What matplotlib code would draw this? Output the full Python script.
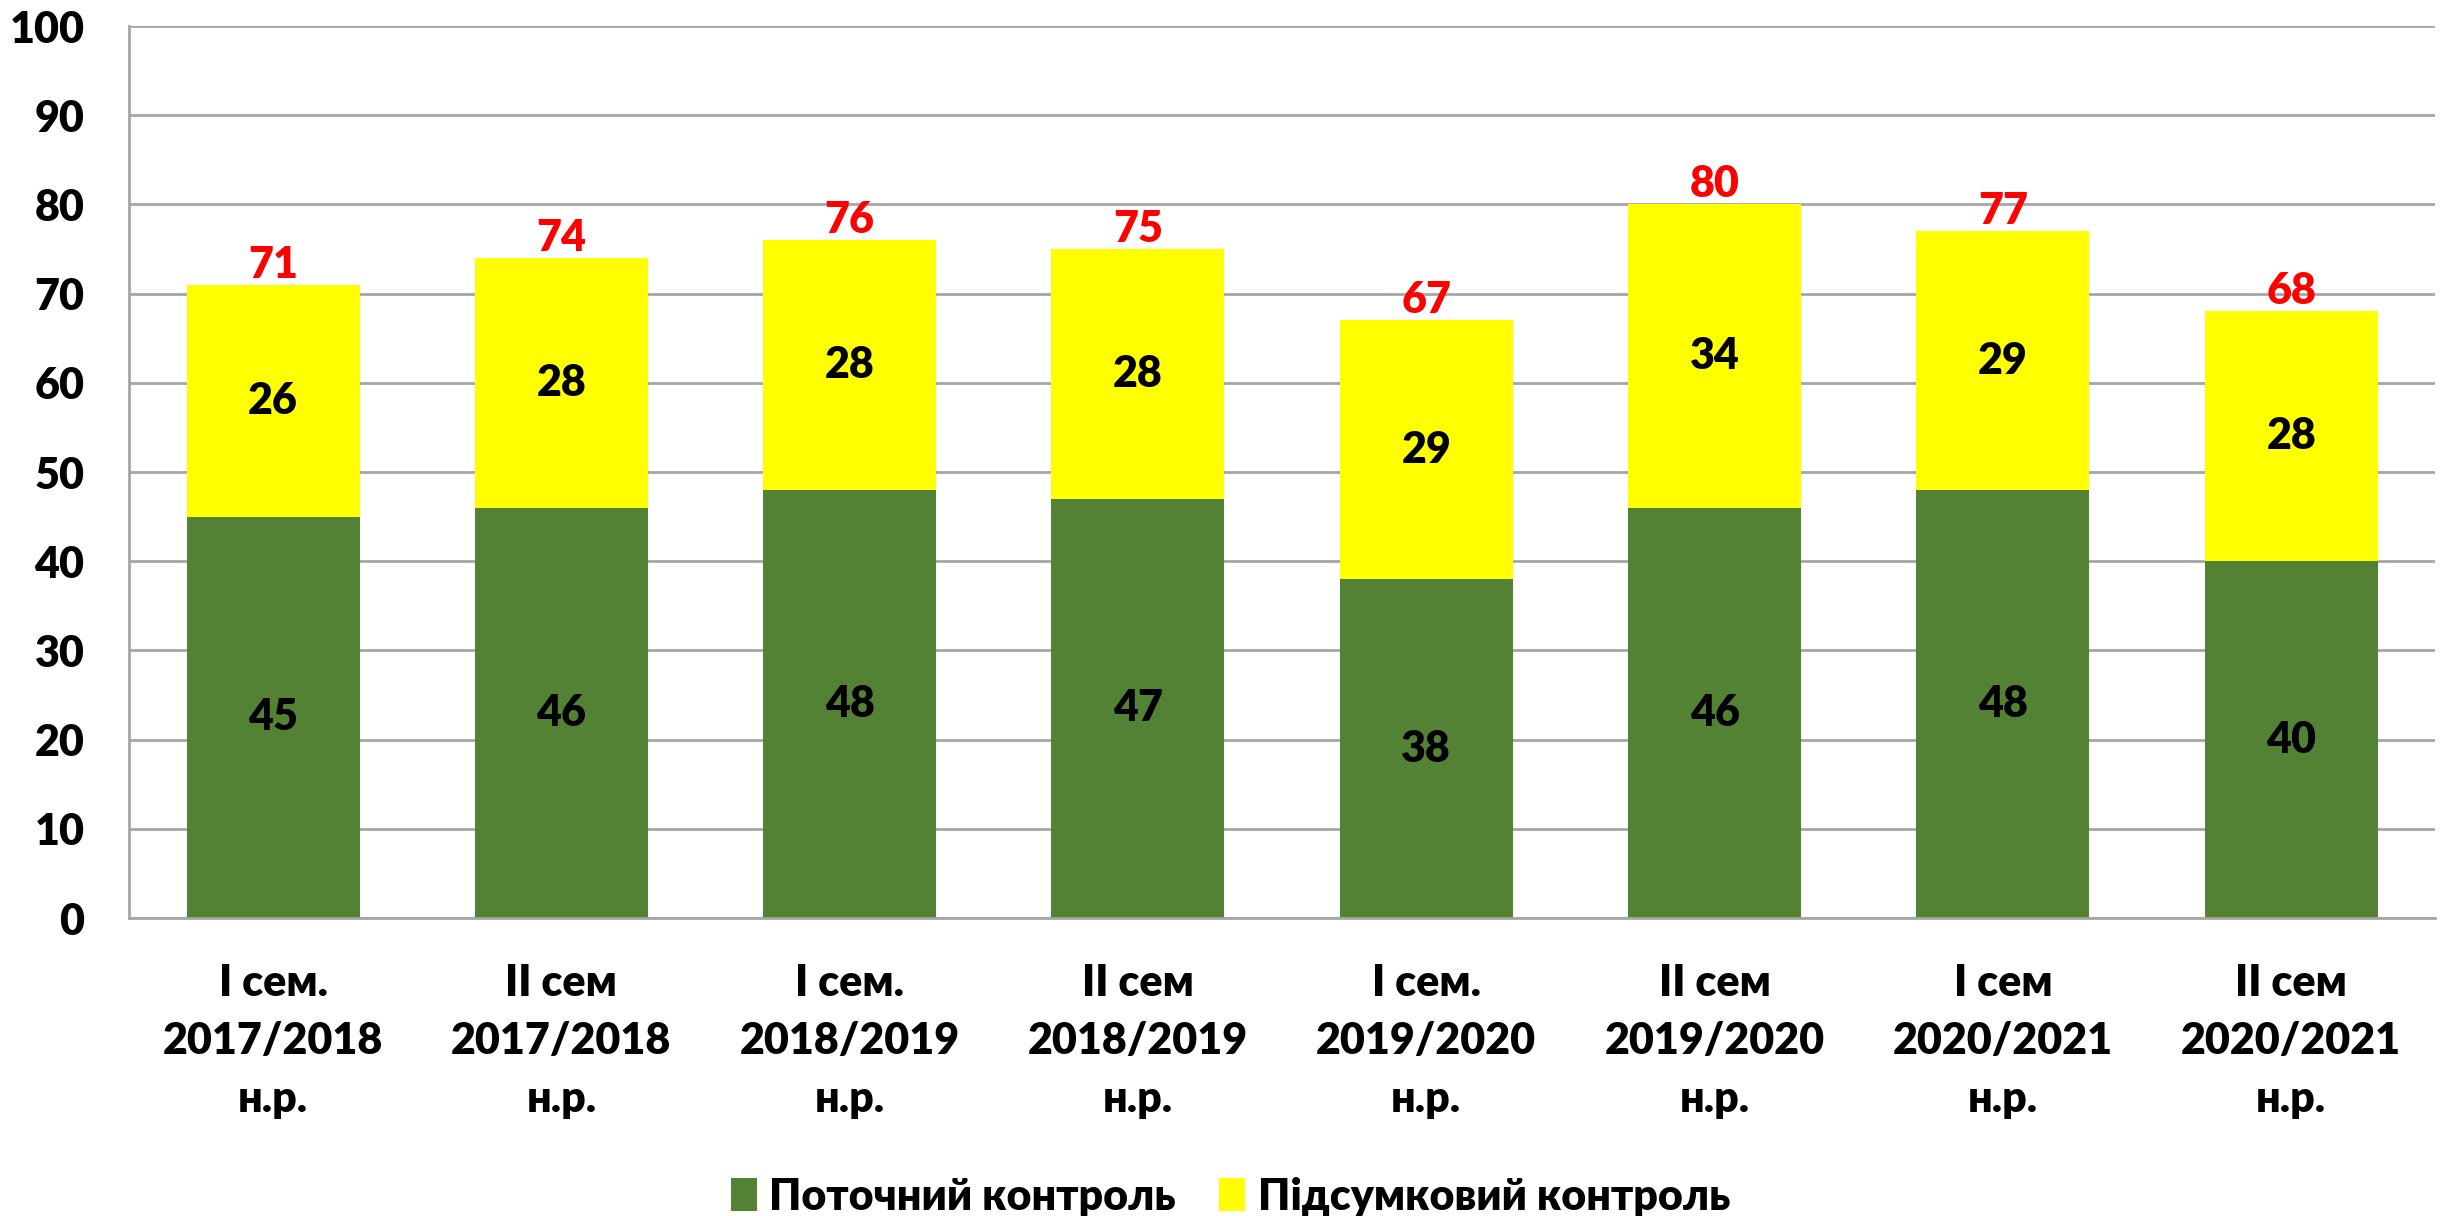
import matplotlib
matplotlib.use('Agg')
import matplotlib.pyplot as plt
import numpy as np

# Data
categories = ['I сем.\n2017/2018\nн.р.', 'II сем\n2017/2018\nн.р.',
              'I сем.\n2018/2019\nн.р.', 'II сем\n2018/2019\nн.р.',
              'I сем.\n2019/2020\nн.р.', 'II сем\n2019/2020\nн.р.',
              'I сем\n2020/2021\nн.р.', 'II сем\n2020/2021\nн.р.']
current_control = [45, 46, 48, 47, 38, 46, 48, 40]
final_control = [26, 28, 28, 28, 29, 34, 29, 28]
totals = [71, 74, 76, 75, 67, 80, 77, 68]
series_names = ['Поточний контроль', 'Підсумковий контроль']
y_ticks = [0, 10, 20, 30, 40, 50, 60, 70, 80, 90, 100]

plt.rcParams['font.family'] = ['Lato', 'Open Sans', 'DejaVu Sans']
wt = 'heavy'
plt.rcParams['font.weight'] = wt

fig = plt.figure(figsize=(24.51, 12.16), dpi=100)
ax = fig.add_axes([0.0526, 0.245, 0.941, 0.7336])

x = np.arange(len(categories))
bar_width = 0.6
green = '#548235'
yellow = '#FFFF00'

bars_cur = ax.bar(x, current_control, bar_width, color=green,
                  label=series_names[0], zorder=2)
bars_fin = ax.bar(x, final_control, bar_width, bottom=current_control,
                  color=yellow, label=series_names[1], zorder=2)

fs = 31
ax.bar_label(bars_cur, labels=[str(v) for v in current_control],
             label_type='center', fontsize=fs, fontweight=wt, color='black')
ax.bar_label(bars_fin, labels=[str(v) for v in final_control],
             label_type='center', fontsize=fs, fontweight=wt, color='black')
for xi, t in zip(x, totals):
    ax.annotate(str(t), xy=(xi, t), xytext=(0, 0), textcoords='offset points',
                ha='center', va='bottom', fontsize=fs, fontweight=wt,
                color='#FF0000')

ax.set_xlim(-0.5, len(categories) - 0.5)
ax.set_ylim(0, 100)
ax.set_yticks(y_ticks)
ax.set_yticklabels([str(v) for v in y_ticks], fontsize=fs, fontweight=wt)
ax.set_xticks(x)
ax.set_xticklabels(categories, fontsize=fs, fontweight=wt, linespacing=1.55)
ax.tick_params(axis='y', length=0, pad=32)
ax.tick_params(axis='x', length=0, pad=32)

ax.grid(axis='y', color='#A6A6A6', linewidth=2, zorder=0)
for side in ['top', 'right']:
    ax.spines[side].set_visible(False)
ax.spines['left'].set_color('#A6A6A6')
ax.spines['left'].set_linewidth(2)
ax.spines['bottom'].set_color('#A6A6A6')
ax.spines['bottom'].set_linewidth(2)

fig.legend(loc='center', bbox_to_anchor=(0.502, 0.016), ncol=2, frameon=False,
           handlelength=0.6, handleheight=0.8, handletextpad=0.3,
           columnspacing=1.0, prop={'weight': wt, 'size': fs})

fig.savefig('out.png', dpi=100)
